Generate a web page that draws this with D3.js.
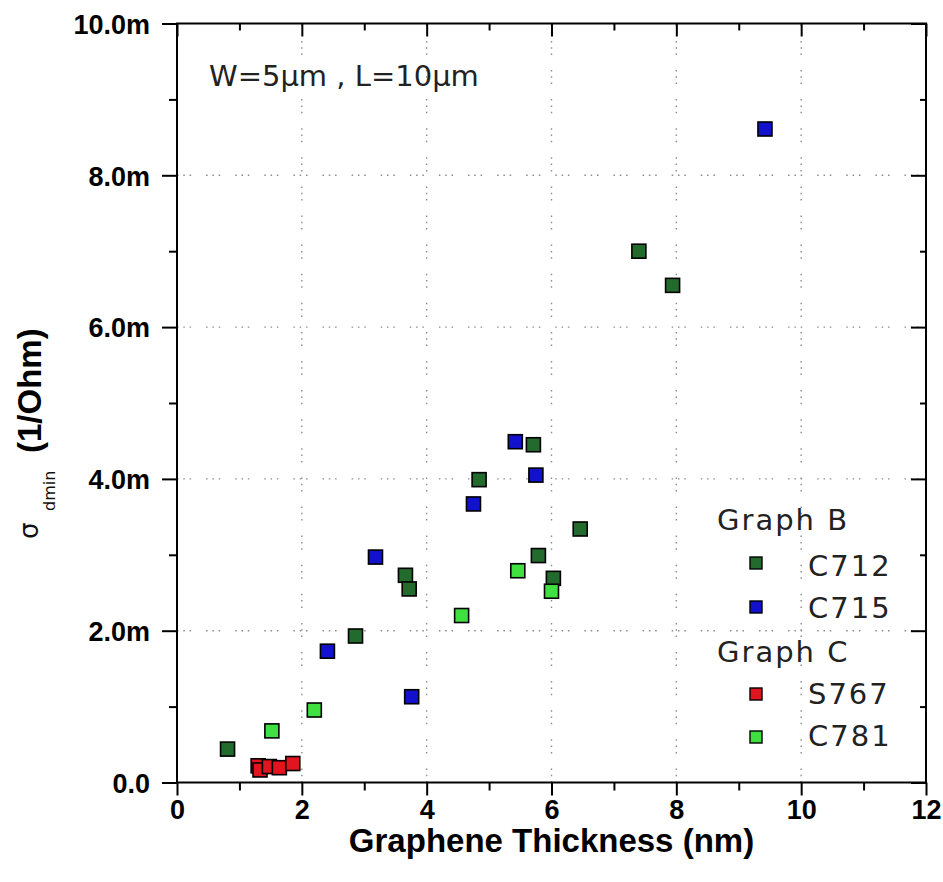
<!DOCTYPE html>
<html>
<head>
<meta charset="utf-8">
<script src="https://cdn.jsdelivr.net/npm/d3@7"></script>
<style>
  html, body { margin: 0; padding: 0; background: #fff; }
  svg { display: block; }
</style>
</head>
<body>
<script>
// ---------- data (y in milli-1/Ohm) ----------
const xTicks = [0, 2, 4, 6, 8, 10, 12];
const yTicks = [0, 2, 4, 6, 8, 10];
const yTickLabels = ["0.0", "2.0m", "4.0m", "6.0m", "8.0m", "10.0m"];

const c712X = [0.81, 2.86, 3.66, 3.72, 4.84, 5.71, 5.79, 6.03, 6.46, 7.40, 7.94];
const c712Y = [0.44, 1.93, 2.73, 2.55, 3.99, 4.45, 2.99, 2.69, 3.34, 7.00, 6.55];
const c715X = [2.41, 3.18, 3.76, 4.75, 5.42, 5.75, 9.42];
const c715Y = [1.73, 2.97, 1.13, 3.67, 4.49, 4.05, 8.61];
const s767X = [1.30, 1.33, 1.48, 1.64, 1.855];
const s767Y = [0.22, 0.165, 0.21, 0.195, 0.25];
const c781X = [1.52, 2.20, 4.56, 5.46, 6.00];
const c781Y = [0.68, 0.955, 2.20, 2.79, 2.52];

const seriesNames = ["C712", "C715", "S767", "C781"];
const seriesColors = ["#236b2d", "#1212cc", "#e01520", "#3fe03f"];
const groupNames = ["Graph B", "Graph C"];
const annotation = "W=5\u00b5m , L=10\u00b5m";

const series = [
  {name: seriesNames[0], color: seriesColors[0], xs: c712X, ys: c712Y},
  {name: seriesNames[1], color: seriesColors[1], xs: c715X, ys: c715Y},
  {name: seriesNames[2], color: seriesColors[2], xs: s767X, ys: s767Y},
  {name: seriesNames[3], color: seriesColors[3], xs: c781X, ys: c781Y}
];

// ---------- layout ----------
const W = 943, H = 882;
const L = 177, R = 926, T = 23.5, B = 782.5;

const svg = d3.select("body").append("svg").attr("width", W).attr("height", H);

const x = d3.scaleLinear().domain([0, 12]).range([L, R]);
const y = d3.scaleLinear().domain([0, 10]).range([B, T]);

// grid
const gridG = svg.append("g").attr("stroke", "#8c8c8c").attr("stroke-width", 1.4)
  .attr("stroke-dasharray", "1.5,4.8,1.5,4.8,1.5,15").attr("fill", "none");
[2, 4, 6, 8, 10].forEach(v => {
  gridG.append("line").attr("x1", x(v)).attr("x2", x(v)).attr("y1", B).attr("y2", T);
});
[2, 4, 6, 8].forEach(v => {
  gridG.append("line").attr("y1", y(v)).attr("y2", y(v)).attr("x1", L).attr("x2", R);
});

// axes
const tickFont = "'Liberation Sans', Arial, sans-serif";
const minorX = d3.range(1, 12, 2);
const minorY = d3.range(1, 10, 2);

function styleAxis(g) {
  g.select(".domain").remove();
  g.selectAll(".tick line").attr("stroke", "#000").attr("stroke-width", 2);
}

// bottom major
const xAxis = svg.append("g").attr("transform", `translate(0,${B})`)
  .call(d3.axisBottom(x).tickValues(xTicks).tickSize(13).tickPadding(4).tickFormat(d3.format("d")));
styleAxis(xAxis);
xAxis.selectAll(".tick text").attr("font-family", tickFont).attr("font-weight", "bold")
  .attr("font-size", 27).attr("fill", "#000").attr("dy", "0.72em");
// bottom minor
const xMinor = svg.append("g").attr("transform", `translate(0,${B})`)
  .call(d3.axisBottom(x).tickValues(minorX).tickSize(8).tickFormat(""));
styleAxis(xMinor);

// left major
const yAxis = svg.append("g").attr("transform", `translate(${L},0)`)
  .call(d3.axisLeft(y).tickValues(yTicks).tickSize(15).tickPadding(12)
    .tickFormat((d, i) => yTickLabels[i]));
styleAxis(yAxis);
yAxis.selectAll(".tick text").attr("font-family", tickFont).attr("font-weight", "bold")
  .attr("font-size", 27).attr("fill", "#000").attr("dy", "0.36em");
const yMinor = svg.append("g").attr("transform", `translate(${L},0)`)
  .call(d3.axisLeft(y).tickValues(minorY).tickSize(8).tickFormat(""));
styleAxis(yMinor);

// top (inward)
const topMaj = svg.append("g").attr("transform", `translate(0,${T})`)
  .call(d3.axisBottom(x).tickValues(xTicks).tickSize(13).tickFormat(""));
styleAxis(topMaj);
const topMin = svg.append("g").attr("transform", `translate(0,${T})`)
  .call(d3.axisBottom(x).tickValues(minorX).tickSize(7).tickFormat(""));
styleAxis(topMin);
// right (inward)
const rMaj = svg.append("g").attr("transform", `translate(${R},0)`)
  .call(d3.axisLeft(y).tickValues(yTicks).tickSize(15).tickFormat(""));
styleAxis(rMaj);
const rMin = svg.append("g").attr("transform", `translate(${R},0)`)
  .call(d3.axisLeft(y).tickValues(minorY).tickSize(6).tickFormat(""));
styleAxis(rMin);

// frame
svg.append("rect").attr("x", L).attr("y", T).attr("width", R - L).attr("height", B - T)
  .attr("fill", "none").attr("stroke", "#000").attr("stroke-width", 2);

// points
const ms = 14;
series.forEach(s => {
  svg.append("g").selectAll("rect").data(s.xs.map((v, i) => [v, s.ys[i]])).join("rect")
    .attr("x", d => x(d[0]) - ms / 2).attr("y", d => y(d[1]) - ms / 2)
    .attr("width", ms).attr("height", ms)
    .attr("fill", s.color).attr("stroke", "#000").attr("stroke-width", 1.6);
});

// annotation
const txtFont = "'DejaVu Sans', Verdana, sans-serif";
svg.append("text").attr("x", 209).attr("y", 86).attr("font-family", txtFont)
  .attr("font-size", 29).attr("fill", "#222").text(annotation);

// legend
const lg = svg.append("g").attr("font-family", txtFont).attr("font-size", 29)
  .attr("fill", "#222").attr("letter-spacing", 2);
lg.append("text").attr("x", 717).attr("y", 530).text(groupNames[0]);
lg.append("text").attr("x", 717).attr("y", 662).text(groupNames[1]);
const legRows = [
  {s: series[0], ty: 576, my: 563},
  {s: series[1], ty: 618, my: 607},
  {s: series[2], ty: 704, my: 694},
  {s: series[3], ty: 746, my: 737}
];
const lms = 12;
legRows.forEach(r => {
  lg.append("rect").attr("x", 756 - lms / 2).attr("y", r.my - lms / 2)
    .attr("width", lms).attr("height", lms).attr("fill", r.s.color)
    .attr("stroke", "#000").attr("stroke-width", 1.4);
  lg.append("text").attr("x", 808).attr("y", r.ty).text(r.s.name);
});

// axis titles
svg.append("text").attr("x", (L + R) / 2).attr("y", 852).attr("text-anchor", "middle")
  .attr("font-family", tickFont).attr("font-weight", "bold").attr("font-size", 33)
  .attr("fill", "#000").text("Graphene Thickness (nm)");

svg.append("text").attr("transform", "translate(38,539) rotate(-90)")
  .attr("font-family", txtFont).attr("font-size", 26).attr("fill", "#111").text("\u03c3");
svg.append("text").attr("transform", "translate(55,511) rotate(-90)")
  .attr("font-family", txtFont).attr("font-size", 16).attr("fill", "#111").text("dmin");
svg.append("text").attr("transform", "translate(41,453) rotate(-90)")
  .attr("font-family", tickFont).attr("font-weight", "bold").attr("font-size", 33)
  .attr("fill", "#000").text("(1/Ohm)");
</script>
</body>
</html>
